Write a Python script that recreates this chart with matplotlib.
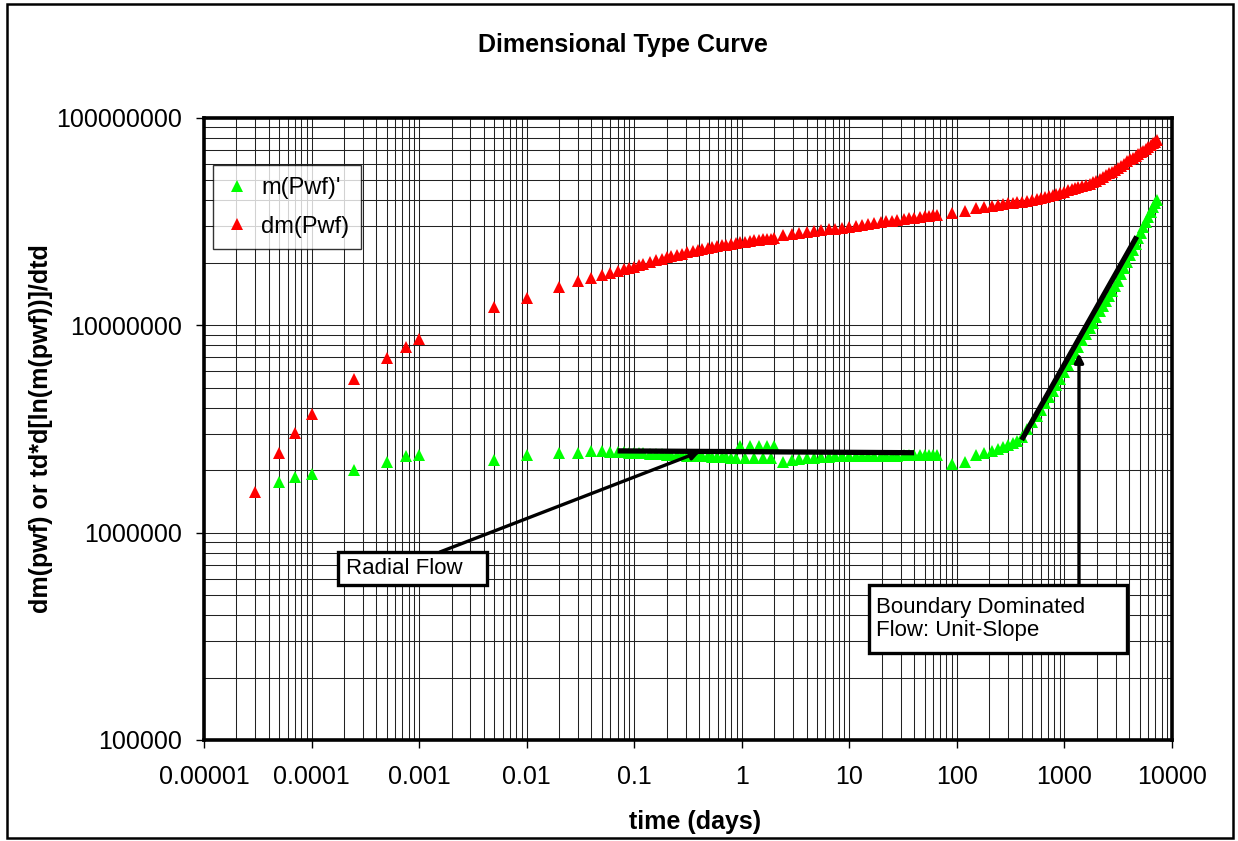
import numpy as np
import matplotlib
matplotlib.use("Agg")
import matplotlib.pyplot as plt
import matplotlib.patches as patches
from matplotlib.ticker import NullFormatter, LogLocator

plt.rcParams['font.family'] = ['Liberation Sans', 'DejaVu Sans']

# ==================== data ====================
# time (days)
t_days = [3e-5, 5e-5, 7e-5, 1e-4, 2.5e-4, 5e-4, 7.5e-4, 1e-3, 5e-3, 0.01, 0.02, 0.03, 0.04,
          # first flow period
          0.05, 0.06, 0.07, 0.08, 0.09, 0.10, 0.11, 0.12, 0.14, 0.16, 0.18, 0.20, 0.22, 0.25,
          0.28, 0.31, 0.35, 0.39, 0.43, 0.48, 0.53, 0.59, 0.65, 0.72, 0.80, 0.88, 0.97, 1.07,
          1.18, 1.30, 1.43, 1.57, 1.72, 1.88, 2.00,
          # second period
          2.4, 2.9, 3.4, 4.0, 4.7, 5.5, 6.4, 7.4, 8.6, 10, 11.5, 13, 15, 17, 19.5, 22, 25, 28,
          32, 36, 40, 45, 50, 55, 60, 65,
          # monthly data
          90, 120, 150, 180, 210, 240, 270, 300, 330, 360, 400, 450, 500, 550, 600, 660, 720,
          780, 840, 900, 990, 1080, 1170, 1260, 1350, 1470, 1590, 1710, 1830, 1980, 2130, 2280,
          2430, 2610, 2790, 2970, 3180, 3390, 3600, 3840, 4080, 4320, 4590, 4860, 5130, 5430,
          5730, 6030, 6360, 6690, 7020, 7200]

# dm(Pwf)
dm_pwf = [1.57e6, 2.41e6, 3.03e6, 3.72e6, 5.52e6, 6.93e6, 7.88e6, 8.55e6, 1.22e7, 1.36e7, 1.53e7, 1.64e7, 1.70e7,
          1.74e7, 1.78e7, 1.82e7, 1.86e7, 1.89e7, 1.92e7, 1.95e7, 1.98e7, 2.03e7, 2.07e7, 2.10e7, 2.13e7, 2.16e7, 2.19e7,
          2.22e7, 2.25e7, 2.28e7, 2.31e7, 2.33e7, 2.36e7, 2.38e7, 2.41e7, 2.43e7, 2.45e7, 2.47e7, 2.49e7, 2.51e7, 2.53e7,
          2.55e7, 2.57e7, 2.58e7, 2.60e7, 2.61e7, 2.62e7, 2.63e7,
          2.73e7, 2.76e7, 2.78e7, 2.81e7, 2.84e7, 2.87e7, 2.90e7, 2.93e7, 2.96e7, 2.99e7, 3.02e7, 3.05e7, 3.08e7, 3.11e7,
          3.14e7, 3.17e7, 3.20e7, 3.23e7, 3.26e7, 3.29e7, 3.31e7, 3.34e7, 3.36e7, 3.38e7, 3.40e7, 3.42e7,
          3.49e7, 3.57e7, 3.66e7, 3.71e7, 3.76e7, 3.81e7, 3.84e7, 3.87e7, 3.90e7, 3.92e7, 3.95e7, 3.99e7, 4.03e7, 4.07e7,
          4.10e7, 4.15e7, 4.20e7, 4.24e7, 4.29e7, 4.33e7, 4.41e7, 4.47e7, 4.53e7, 4.59e7, 4.64e7, 4.71e7, 4.77e7, 4.83e7,
          4.90e7, 4.98e7, 5.08e7, 5.18e7, 5.28e7, 5.40e7, 5.51e7, 5.62e7, 5.76e7, 5.90e7, 6.03e7, 6.18e7, 6.32e7, 6.44e7,
          6.57e7, 6.69e7, 6.82e7, 6.96e7, 7.10e7, 7.24e7, 7.40e7, 7.55e7, 7.70e7, 7.80e7]

# m(Pwf)' (no point at the first time)
m_pwf_der = [np.nan, 1.76e6, 1.86e6, 1.92e6, 2.00e6, 2.19e6, 2.34e6, 2.36e6, 2.24e6, 2.36e6, 2.41e6, 2.43e6, 2.48e6,
             2.47e6, 2.46e6, 2.45e6, 2.44e6, 2.43e6, 2.42e6, 2.42e6, 2.41e6, 2.40e6, 2.40e6, 2.39e6, 2.38e6, 2.37e6, 2.36e6,
             2.36e6, 2.35e6, 2.34e6, 2.34e6, 2.33e6, 2.33e6, 2.32e6, 2.32e6, 2.31e6, 2.31e6, 2.30e6, 2.30e6, 2.62e6, 2.30e6,
             2.63e6, 2.29e6, 2.62e6, 2.29e6, 2.63e6, 2.29e6, 2.61e6,
             2.20e6, 2.24e6, 2.27e6, 2.29e6, 2.30e6, 2.31e6, 2.32e6, 2.33e6, 2.33e6, 2.33e6, 2.34e6, 2.34e6, 2.34e6, 2.35e6,
             2.35e6, 2.35e6, 2.35e6, 2.35e6, 2.36e6, 2.36e6, 2.36e6, 2.36e6, 2.36e6, 2.37e6, 2.37e6, 2.37e6,
             2.14e6, 2.19e6, 2.36e6, 2.43e6, 2.48e6, 2.53e6, 2.58e6, 2.64e6, 2.70e6, 2.78e6, 2.90e6, 3.15e6, 3.40e6, 3.65e6,
             3.90e6, 4.20e6, 4.50e6, 4.82e6, 5.15e6, 5.48e6, 5.95e6, 6.42e6, 6.90e6, 7.38e6, 7.85e6, 8.50e6, 9.10e6, 9.70e6,
             1.03e7, 1.10e7, 1.17e7, 1.24e7, 1.31e7, 1.39e7, 1.47e7, 1.54e7, 1.64e7, 1.76e7, 1.88e7, 2.03e7, 2.18e7, 2.32e7,
             2.48e7, 2.64e7, 2.80e7, 2.97e7, 3.14e7, 3.32e7, 3.52e7, 3.72e7, 3.90e7, 4.00e7]

# hand drawn trend lines
radial_t = [0.07, 40]
radial_v = [2.48e6, 2.43e6]
unit_t = [400, 4700]
unit_v = [2.8e6, 2.68e7]

# arrow tips
radial_tip = (0.41, 2.46e6)
bdf_tip = (1365, 7.33e6)

xticks = [1e-5, 1e-4, 1e-3, 1e-2, 1e-1, 1, 10, 100, 1000, 10000]
xtick_labels = ["0.00001", "0.0001", "0.001", "0.01", "0.1", "1", "10", "100", "1000", "10000"]
yticks = [1e5, 1e6, 1e7, 1e8]
ytick_labels = ["100000", "1000000", "10000000", "100000000"]

# ==================== figure ====================
fig = plt.figure(figsize=(12.38, 8.41), dpi=100)
ax = fig.add_axes([0.1648, 0.1201, 0.7819, 0.7396])

ax.set_xscale("log")
ax.set_yscale("log")
ax.set_xlim(1e-5, 1e4)
ax.set_ylim(1e5, 1e8)

ax.plot(t_days, m_pwf_der, linestyle="none", marker="^", markersize=8.5, color="#00ff00",
        markeredgewidth=0, label="m(Pwf)'", zorder=3)
ax.plot(t_days, dm_pwf, linestyle="none", marker="^", markersize=8.5, color="#ff0000",
        markeredgewidth=0, label="dm(Pwf)", zorder=3)

# trend lines
ax.plot(radial_t, radial_v, color="black", lw=3.8, solid_capstyle="butt", zorder=4)
ax.plot(unit_t, unit_v, color="black", lw=3.8, solid_capstyle="butt", zorder=4)

# grid
ax.xaxis.set_minor_locator(LogLocator(base=10, subs=np.arange(2, 10), numticks=20))
ax.yaxis.set_minor_locator(LogLocator(base=10, subs=np.arange(2, 10), numticks=20))
ax.xaxis.set_minor_formatter(NullFormatter())
ax.yaxis.set_minor_formatter(NullFormatter())
ax.grid(True, which="both", color="#222222", lw=0.75)
ax.set_axisbelow(True)

ax.set_xticks(xticks)
ax.set_xticklabels(xtick_labels)
ax.set_yticks(yticks)
ax.set_yticklabels(ytick_labels)
ax.tick_params(axis="both", which="major", direction="out", length=6, width=1, labelsize=18)
ax.tick_params(axis="x", which="major", pad=12)
ax.tick_params(axis="y", which="major", pad=10)
ax.tick_params(axis="both", which="minor", length=0)

for s in ax.spines.values():
    s.set_linewidth(2.6)
    s.set_zorder(5)

ax.set_xlabel("time (days)", fontsize=18, fontweight="bold")
ax.xaxis.set_label_coords(0.507, -0.112)
ax.set_ylabel("dm(pwf) or td*d[ln(m(pwf))]/dtd", fontsize=18, fontweight="bold")
ax.yaxis.set_label_coords(-0.156, 0.5)

fig.text(0.503, 0.946, "Dimensional Type Curve", ha="center", va="center", fontsize=18,
         fontweight="bold")

leg = ax.legend(loc="upper left", bbox_to_anchor=(0.0093, 0.924), borderaxespad=0,
                fontsize=17, frameon=True, fancybox=False, handlelength=1.0,
                handletextpad=0.55, borderpad=0.5, labelspacing=0.7, markerscale=1.0)
leg.get_frame().set_edgecolor("black")
leg.get_frame().set_linewidth(1.0)
leg.set_zorder(6)

# annotation boxes (axes fraction)
radial_box = patches.Rectangle((0.1384, 0.2492), 0.1540, 0.0531, transform=ax.transAxes,
                               facecolor="white", edgecolor="black", lw=2.4, zorder=6)
ax.add_patch(radial_box)
ax.text(0.1467, 0.2757, "Radial Flow", transform=ax.transAxes, ha="left", va="center",
        fontsize=16, zorder=7)
ax.annotate("", xy=radial_tip, xycoords="data", xytext=(0.2438, 0.3023), textcoords="axes fraction",
            arrowprops=dict(arrowstyle="-|>", color="black", lw=2.4, mutation_scale=13,
                            shrinkA=0, shrinkB=0), zorder=6)

bdf_box = patches.Rectangle((0.6873, 0.1394), 0.2659, 0.1098, transform=ax.transAxes,
                            facecolor="white", edgecolor="black", lw=2.4, zorder=6)
ax.add_patch(bdf_box)
ax.text(0.6942, 0.1942, "Boundary Dominated\nFlow: Unit-Slope", transform=ax.transAxes,
        ha="left", va="center", fontsize=16, linespacing=1.15, zorder=7)
ax.annotate("", xy=bdf_tip, xycoords="data", xytext=(0.9039, 0.2492), textcoords="axes fraction",
            arrowprops=dict(arrowstyle="-|>", color="black", lw=2.4, mutation_scale=13,
                            shrinkA=0, shrinkB=0), zorder=6)

# outer chart border
border = patches.Rectangle((0.0057, 0.0036), 0.9903, 0.9916, transform=fig.transFigure,
                           fill=False, edgecolor="black", lw=1.8)
fig.add_artist(border)

fig.savefig("out.png", dpi=100)
